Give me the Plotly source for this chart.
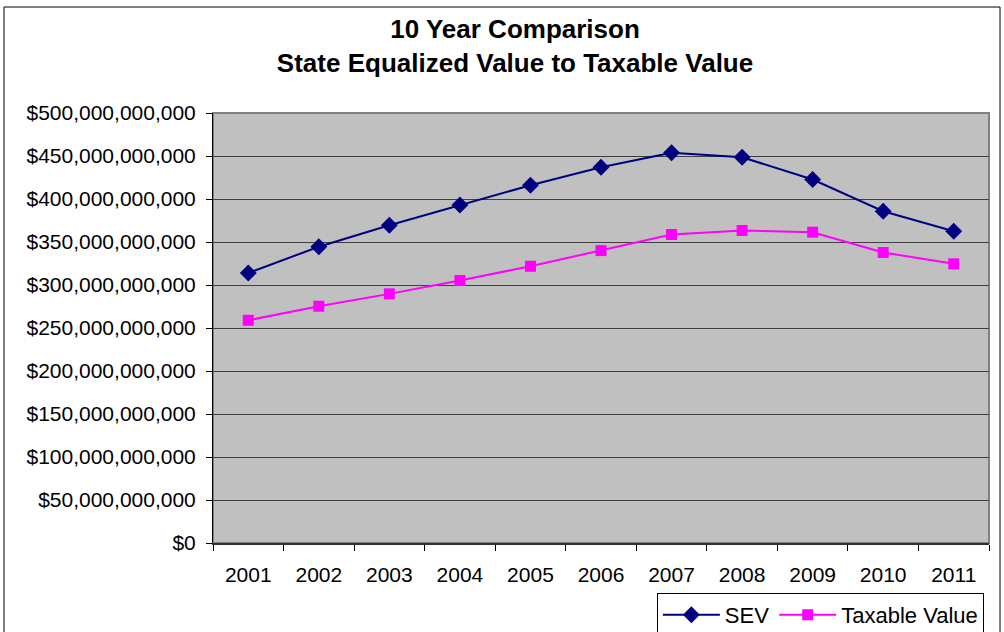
import plotly.graph_objects as go

years = ["2001", "2002", "2003", "2004", "2005", "2006", "2007", "2008", "2009", "2010", "2011"]
sev = [314e9, 344.5e9, 369.5e9, 393e9, 416e9, 437e9, 453.8e9, 448.6e9, 422.7e9, 385.8e9, 362.5e9]
taxable = [259e9, 275.3e9, 289.7e9, 305.2e9, 321.8e9, 340e9, 358.7e9, 363.4e9, 361.4e9, 337.8e9, 324.6e9]
ytick_vals = [0, 50e9, 100e9, 150e9, 200e9, 250e9, 300e9, 350e9, 400e9, 450e9, 500e9]
ytick_text = ["$0", "$50,000,000,000", "$100,000,000,000", "$150,000,000,000", "$200,000,000,000",
              "$250,000,000,000", "$300,000,000,000", "$350,000,000,000", "$400,000,000,000",
              "$450,000,000,000", "$500,000,000,000"]

font = "Liberation Sans, Arial, sans-serif"

fig = go.Figure()
fig.add_trace(go.Scatter(x=years, y=sev, name="SEV", mode="lines+markers",
                         line=dict(color="#000080", width=2),
                         marker=dict(symbol="diamond", size=13, color="#000080")))
fig.add_trace(go.Scatter(x=years, y=taxable, name="Taxable Value", mode="lines+markers",
                         line=dict(color="#FF00FF", width=2),
                         marker=dict(symbol="square", size=11, color="#FF00FF")))

fig.update_layout(
    width=1004, height=632,
    margin=dict(l=213, r=15, t=113, b=89, autoexpand=False),
    paper_bgcolor="white",
    plot_bgcolor="#C0C0C0",
    font=dict(family=font, size=21, color="black"),
    title=dict(text="<b>10 Year Comparison<br>State Equalized Value to Taxable Value</b>",
               x=0.513, xref="container", xanchor="center",
               y=0.94, yref="container", yanchor="top",
               font=dict(family=font, size=26, color="black")),
    showlegend=True,
    legend=dict(orientation="h", x=0.572, y=-0.116, xanchor="left", yanchor="top",
                bordercolor="black", borderwidth=1, bgcolor="white",
                font=dict(family=font, size=22), itemwidth=57),
    xaxis=dict(type="category", range=[-0.5, 10.5], showgrid=False,
               showline=True, linecolor="#333333", linewidth=2,
               ticks="outside", tickson="boundaries", ticklen=6, tickcolor="black",
               ticklabelstandoff=12,
               tickfont=dict(size=21)),
    yaxis=dict(range=[0, 500e9], tickvals=ytick_vals, ticktext=ytick_text,
               showgrid=True, gridcolor="#404040", gridwidth=1,
               showline=True, linecolor="black", linewidth=1,
               ticks="outside", ticklen=6, tickcolor="black",
               ticklabelstandoff=6,
               tickfont=dict(size=21), zeroline=False),
)

# plot area border (right/top in gray)
fig.add_shape(type="rect", xref="paper", yref="paper", x0=0, x1=1, y0=0, y1=1,
              line=dict(color="#808080", width=2), layer="below")
# chart outer border
fig.add_shape(type="rect", xref="paper", yref="paper", x0=-0.2693, x1=1.0142, y0=-0.23, y1=1.2465,
              line=dict(color="black", width=1))

fig.write_html("out.html")
